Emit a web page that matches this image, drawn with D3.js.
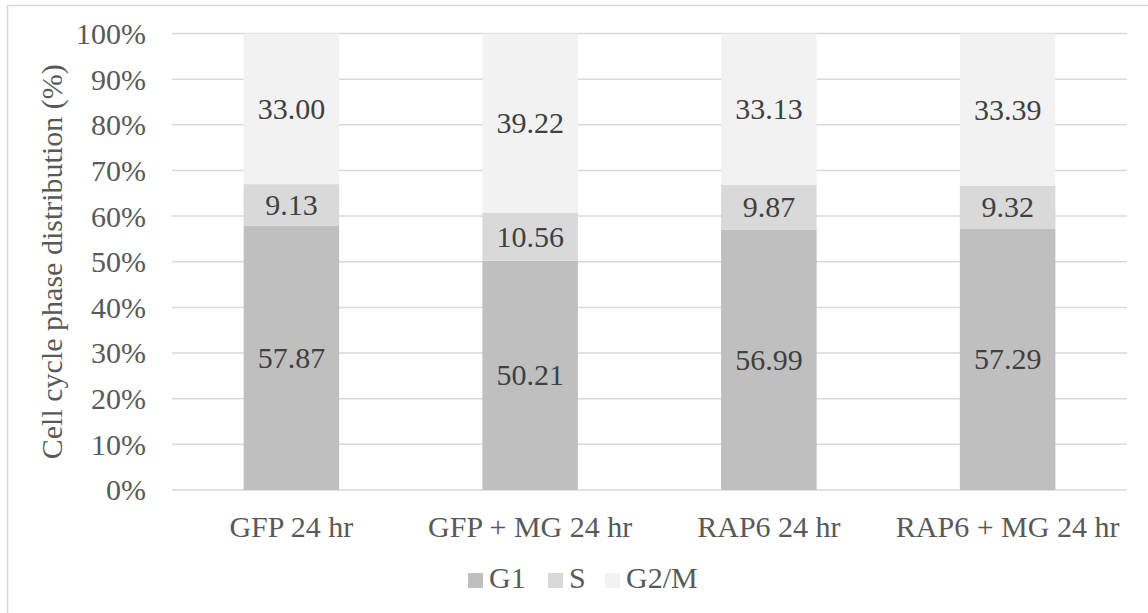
<!DOCTYPE html>
<html>
<head>
<meta charset="utf-8">
<script src="https://cdn.jsdelivr.net/npm/d3@7"></script>
<style>
  html, body { margin: 0; padding: 0; background: #fff; }
</style>
</head>
<body>
<svg id="chart" width="1148" height="613"></svg>
<script>
const categories = ["GFP 24 hr", "GFP + MG 24 hr", "RAP6 24 hr", "RAP6 + MG 24 hr"];
const seriesNames = ["G1", "S", "G2/M"];
const g1Values = [57.87, 50.21, 56.99, 57.29];
const sValues = [9.13, 10.56, 9.87, 9.32];
const g2mValues = [33.00, 39.22, 33.13, 33.39];
const yTicks = [0, 10, 20, 30, 40, 50, 60, 70, 80, 90, 100];
const yTitle = "Cell cycle phase distribution (%)";

const colors = { "G1": "#bfbfbf", "S": "#d9d9d9", "G2/M": "#f2f2f2" };
const FONT = "Liberation Serif";

const rows = categories.map((c, i) => ({ cat: c, "G1": g1Values[i], "S": sValues[i], "G2/M": g2mValues[i] }));
const stacked = d3.stack().keys(seriesNames)(rows);

const svg = d3.select("#chart");
const plotLeft = 172, plotRight = 1127, plotTop = 33.5, plotBottom = 490;

// outer frame
svg.append("rect").attr("x", 7.5).attr("y", 5.5).attr("width", 1160).attr("height", 620)
  .attr("fill", "none").attr("stroke", "#d9d9d9").attr("stroke-width", 1.5);

const x = d3.scaleBand().domain(categories).range([plotLeft, plotRight]).paddingInner(0.6).paddingOuter(0.3);
const y = d3.scaleLinear().domain([0, 100]).range([plotBottom, plotTop]);

// gridlines
svg.append("g").selectAll("line").data(yTicks).join("line")
  .attr("x1", plotLeft).attr("x2", plotRight)
  .attr("y1", d => y(d)).attr("y2", d => y(d))
  .attr("stroke", "#d9d9d9").attr("stroke-width", 1.5);

// y axis labels
const yAxis = d3.axisLeft(y).tickValues(yTicks).tickFormat(d => d + "%").tickSize(0).tickPadding(0);
const yg = svg.append("g").attr("transform", `translate(146,0)`).call(yAxis);
yg.select(".domain").remove();
yg.selectAll("text").attr("font-size", 30).attr("fill", "#595959")
  .style("font-family", FONT).attr("dy", "0.33em");

// bars
const layers = svg.append("g").selectAll("g").data(stacked).join("g")
  .attr("fill", d => colors[d.key]);
layers.selectAll("rect").data(d => d).join("rect")
  .attr("x", d => x(d.data.cat))
  .attr("width", x.bandwidth())
  .attr("y", d => y(d[1]))
  .attr("height", d => y(d[0]) - y(d[1]));

// bar labels
const labelG = svg.append("g");
stacked.forEach(layer => {
  layer.forEach(d => {
    labelG.append("text")
      .attr("x", x(d.data.cat) + x.bandwidth() / 2)
      .attr("y", (y(d[0]) + y(d[1])) / 2)
      .attr("dy", "0.33em")
      .attr("text-anchor", "middle")
      .attr("font-size", 30)
      .attr("fill", "#404040")
      .style("font-family", FONT)
      .text(d.data[layer.key].toFixed(2));
  });
});

// x axis labels
const xAxis = d3.axisBottom(x).tickSize(0).tickPadding(0);
const xg = svg.append("g").attr("transform", `translate(0,537)`).call(xAxis);
xg.select(".domain").remove();
xg.selectAll("text").attr("font-size", 30).attr("fill", "#595959")
  .style("font-family", FONT).attr("dy", 0);

// y title
svg.append("text")
  .attr("transform", `translate(62,${(plotTop + plotBottom) / 2}) rotate(-90)`)
  .attr("text-anchor", "middle")
  .attr("font-size", 30)
  .attr("fill", "#595959")
  .style("font-family", FONT)
  .text(yTitle);

// legend
const legendX = [468, 548, 605];
const lg = svg.append("g");
seriesNames.forEach((s, i) => {
  lg.append("rect").attr("x", legendX[i]).attr("y", 573).attr("width", 15).attr("height", 15).attr("fill", colors[s]);
  lg.append("text").attr("x", legendX[i] + 21).attr("y", 588).attr("font-size", 30).attr("fill", "#595959")
    .style("font-family", FONT).text(s);
});
</script>
</body>
</html>
